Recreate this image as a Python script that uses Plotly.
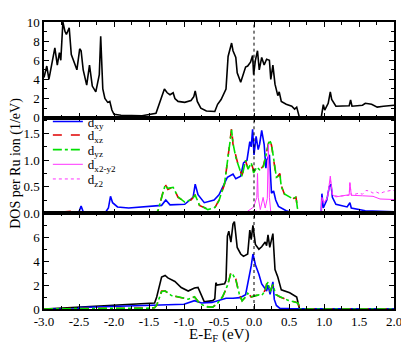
import plotly.graph_objects as go
from plotly.subplots import make_subplots

# top panel: total DOS
e_tot = [-3.0, -2.96, -2.93, -2.89, -2.87, -2.845, -2.81, -2.78, -2.76, -2.73, -2.70, -2.68, -2.64, -2.61,
         -2.56, -2.53, -2.49, -2.47, -2.44, -2.39, -2.35, -2.31, -2.26, -2.21, -2.19, -2.16, -2.13, -2.09,
         -2.06, -2.03, -2.0, -1.9, -1.6, -1.4, -1.28, -1.24, -1.20, -1.155, -1.13, -1.085, -0.99, -0.90,
         -0.86, -0.84, -0.81, -0.76, -0.68, -0.56, -0.52, -0.47, -0.40, -0.37, -0.32, -0.30, -0.26, -0.24,
         -0.19, -0.155, -0.12, -0.09, -0.05, -0.02, -0.005, 0.02, 0.05, 0.075, 0.11, 0.145, 0.18, 0.22,
         0.24, 0.27, 0.30, 0.34, 0.36, 0.39, 0.46, 0.54, 0.58, 0.61, 0.65, 0.96, 0.99, 1.01, 1.06, 1.09,
         1.11, 1.17, 1.36, 1.38, 1.40, 1.55, 1.59, 1.68, 1.76, 1.85, 2.0]
dos_tot = [4.2, 5.4, 4.0, 5.5, 6.3, 7.3, 5.5, 6.8, 6.0, 10.0, 9.0, 8.7, 9.4, 6.6,
           5.6, 5.0, 7.2, 7.0, 5.0, 3.4, 5.5, 3.3, 2.7, 4.5, 8.5, 3.0, 2.0, 1.6,
           1.7, 0.8, 0.35, 0.25, 0.2, 0.45, 3.0, 2.6, 2.4, 2.6, 2.0, 1.7, 1.6, 1.8,
           2.2, 2.8, 1.7, 1.0, 0.7, 0.65, 1.4, 1.9, 3.0, 6.4, 7.8, 7.0, 6.3, 4.7,
           3.7, 4.6, 5.3, 5.4, 5.8, 6.5, 4.5, 6.0, 7.0, 5.0, 6.3, 5.5, 6.1, 6.0,
           4.0, 5.5, 3.5, 2.3, 2.7, 1.7, 1.4, 1.2, 0.9, 1.1, 0.0, 0.0, 1.35, 0.8, 1.5, 2.7,
           1.9, 1.2, 1.25, 1.85, 1.2, 1.3, 1.5, 1.4, 1.1, 1.2, 1.3]

# middle panel: orbital resolved
e_xy = [-3.0, -2.52, -2.50, -2.47, -2.44, -2.2, -2.12, -2.08, -2.05, -2.02, -1.95, -1.79, -1.32, -1.26,
        -1.20, -0.99, -0.87, -0.84, -0.80, -0.71, -0.57, -0.50, -0.43, -0.38, -0.30, -0.26, -0.19, -0.15,
        -0.10, -0.06, -0.04, -0.02, 0.0, 0.03, 0.06, 0.08, 0.11, 0.145, 0.17, 0.18, 0.22, 0.25, 0.28,
        0.31, 0.35, 0.46, 0.58, 0.96, 0.97, 0.99, 1.04, 1.075, 1.10, 1.12, 1.17, 1.33, 1.37, 1.39, 1.59, 2.0]
d_xy = [0.0, 0.0, 0.03, 0.14, 0.03, 0.02, 0.02, 0.1, 0.32, 0.2, 0.12, 0.1, 0.15, 0.25,
        0.16, 0.17, 0.3, 0.55, 0.35, 0.2, 0.25, 0.35, 0.55, 0.68, 0.74, 0.65, 0.7, 0.95,
        1.0, 1.35, 1.25, 1.58, 1.1, 1.45, 1.2, 1.3, 1.56, 1.3, 0.85, 1.0, 1.1, 0.38, 0.42,
        0.25, 0.13, 0.05, 0.0, 0.0, 0.37, 0.1, 0.25, 0.5, 0.55, 0.3, 0.17, 0.12, 0.2, 0.1, 0.05, 0.03]

e_xz = [-3.0, -2.7, -2.6, -2.5, -2.4, -2.3, -1.40, -1.37, -1.27, -1.23, -1.155, -1.085, -0.99, -0.90,
        -0.84, -0.78, -0.66, -0.56, -0.50, -0.42, -0.38, -0.34, -0.32, -0.30, -0.26, -0.215, -0.17,
        -0.12, -0.085, -0.04, -0.005, 0.04, 0.08, 0.135, 0.18, 0.20, 0.22, 0.25, 0.28, 0.32, 0.37,
        0.39, 0.44, 0.56, 0.60, 0.62, 0.65, 2.0]
d_xz = [0.0, 0.02, 0.04, 0.02, 0.03, 0.0, 0.0, 0.05, 0.55, 0.45, 0.5, 0.3, 0.22, 0.25,
        0.35, 0.15, 0.08, 0.1, 0.25, 0.55, 0.95, 1.45, 1.6, 1.3, 1.08, 0.85, 0.72,
        0.98, 0.85, 0.97, 0.79, 0.85, 0.8, 0.9, 1.15, 1.26, 1.4, 1.28, 1.02, 0.66, 0.75,
        0.52, 0.34, 0.28, 0.3, 0.1, 0.0, 0.0]
d_yz = [0.0, 0.03, 0.03, 0.02, 0.02, 0.0, 0.0, 0.06, 0.53, 0.47, 0.49, 0.31, 0.21, 0.26,
        0.34, 0.16, 0.07, 0.11, 0.24, 0.57, 0.97, 1.42, 1.57, 1.32, 1.05, 0.87, 0.7,
        1.0, 0.83, 0.95, 0.76, 0.87, 0.82, 0.88, 1.13, 1.28, 1.38, 1.3, 1.0, 0.68, 0.73,
        0.5, 0.36, 0.27, 0.31, 0.1, 0.0, 0.0]

e_x2y2 = [-3.0, -0.2, -0.10, -0.005, 0.04, 0.05, 0.06, 0.09, 0.13, 0.16, 0.19, 0.205, 0.22, 0.24,
          0.46, 0.55, 0.96, 0.97, 1.0, 1.05, 1.09, 1.12, 1.17, 1.30, 1.36, 1.37, 1.39, 1.55, 1.7,
          1.8, 2.0]
d_x2y2 = [0.0, 0.0, 0.03, 0.12, 0.3, 0.75, 0.3, 0.07, 0.3, 0.1, 0.28, 1.3, 0.3, 0.02,
          0.02, 0.0, 0.0, 0.3, 0.2, 0.3, 0.7, 0.35, 0.31, 0.33, 0.35, 0.58, 0.34, 0.33, 0.32,
          0.27, 0.26]

e_z2 = [-3.0, -0.1, 0.0, 0.05, 0.1, 0.2, 0.3, 0.96, 0.97, 1.0, 1.05, 1.09, 1.12, 1.2, 1.36, 1.37,
        1.39, 1.45, 1.5, 1.55, 1.6, 1.65, 1.7, 1.75, 1.8, 1.85, 1.9, 1.95, 2.0]
d_z2 = [0.0, 0.0, 0.03, 0.05, 0.03, 0.04, 0.0, 0.0, 0.28, 0.2, 0.28, 0.65, 0.34, 0.32, 0.34, 0.56,
        0.34, 0.36, 0.38, 0.36, 0.43, 0.42, 0.38, 0.4, 0.37, 0.4, 0.42, 0.43, 0.43]

# bottom panel
e_b = [-3.0, -2.5, -1.8, -1.42, -1.39, -1.32, -1.27, -1.23, -1.13, -1.04, -0.94, -0.85, -0.80, -0.76,
       -0.71, -0.59, -0.56, -0.545, -0.53, -0.42, -0.40, -0.38, -0.36, -0.33, -0.30, -0.28, -0.24,
       -0.19, -0.15, -0.09, -0.06, -0.04, -0.015, 0.02, 0.07, 0.11, 0.16, 0.18, 0.20, 0.225, 0.27,
       0.30, 0.34, 0.39, 0.51, 0.61, 0.65, 2.0]
dos_b = [0.0, 0.15, 0.4, 0.5, 1.0, 2.67, 2.8, 2.6, 2.3, 1.8, 1.5, 1.75, 1.8, 1.25,
         0.6, 0.7, 0.85, 2.2, 2.0, 2.1, 2.4, 6.1, 6.5, 5.6, 7.1, 7.3, 5.15,
         4.6, 4.4, 4.6, 6.6, 5.8, 7.0, 5.4, 5.0, 5.2, 5.6, 5.3, 6.2, 5.15, 6.3,
         3.3, 2.67, 1.6, 1.36, 1.0, 0.0, 0.0]

e_b_xy = [-3.0, -2.52, -2.5, -2.0, -1.65, -1.4, -1.0, -0.85, -0.75, -0.6, -0.5, -0.4, -0.3, -0.2,
          -0.12, -0.10, -0.07, -0.04, -0.015, 0.02, 0.07, 0.11, 0.16, 0.18, 0.20, 0.23, 0.27, 0.29,
          0.32, 0.37, 0.5, 1.0, 1.01, 2.0]
b_xy = [0.0, 0.0, 0.12, 0.2, 0.3, 0.3, 0.4, 0.7, 0.5, 0.55, 0.7, 0.9, 0.9, 0.95,
        1.2, 1.75, 2.5, 3.6, 4.6, 3.7, 2.9, 2.1, 1.7, 1.5, 2.0, 1.23, 2.27, 0.8,
        0.3, 0.05, 0.03, 0.02, 0.0, 0.0]

e_b_xz = [-3.0, -2.45, -2.4, -1.5, -1.42, -1.39, -1.32, -1.27, -1.18, -1.085, -0.94, -0.85, -0.78,
          -0.68, -0.59, -0.52, -0.45, -0.38, -0.33, -0.30, -0.26, -0.21, -0.17, -0.12, -0.09, -0.04,
          0.02, 0.07, 0.11, 0.16, 0.18, 0.20, 0.23, 0.27, 0.31, 0.37, 0.42, 0.49, 0.58, 0.63, 0.65, 2.0]
b_xz = [0.0, 0.0, 0.05, 0.08, 0.1, 0.3, 1.5, 1.5, 1.15, 1.0, 0.84, 1.0, 0.5,
        0.2, 0.15, 0.5, 1.0, 1.9, 3.06, 2.8, 2.5, 1.2, 0.7, 1.0, 1.36, 1.0,
        1.1, 1.2, 1.1, 1.6, 2.1, 2.2, 1.5, 2.0, 1.23, 1.0, 0.9, 0.7, 0.6, 0.5, 0.0, 0.0]
b_yz = [0.0, 0.0, 0.04, 0.07, 0.1, 0.32, 1.45, 1.52, 1.12, 1.02, 0.82, 1.02, 0.48,
        0.18, 0.16, 0.48, 1.02, 1.95, 3.0, 2.85, 2.45, 1.25, 0.68, 1.02, 1.32, 1.02,
        1.12, 1.18, 1.12, 1.55, 2.05, 2.25, 1.45, 2.05, 1.2, 1.02, 0.88, 0.72, 0.58, 0.5, 0.0, 0.0]

x_ticks = [-3.0, -2.5, -2.0, -1.5, -1.0, -0.5, 0.0, 0.5, 1.0, 1.5, 2.0]
x_labels = ["-3.0", "-2.5", "-2.0", "-1.5", "-1.0", "-0.5", "0.0", "0.5", "1.0", "1.5", "2.0"]

FONT = "Liberation Serif, Times New Roman, serif"
BLUE, RED, GREEN, MAG = "#0000ff", "#e00000", "#00e000", "#ff33ff"

fig = make_subplots(rows=3, cols=1, shared_xaxes=True, vertical_spacing=0)

fig.add_trace(go.Scatter(x=e_tot, y=dos_tot, mode="lines", line=dict(color="black", width=1.6),
                         showlegend=False), row=1, col=1)

# one legend per entry so the rows can sit as tight as in the reference
fig.add_trace(go.Scatter(x=e_xy, y=d_xy, mode="lines", name="d<sub>xy</sub>", legend="legend",
                         line=dict(color=BLUE, width=1.6)), row=2, col=1)
fig.add_trace(go.Scatter(x=e_xz, y=d_xz, mode="lines", name="d<sub>xz</sub>", legend="legend2",
                         line=dict(color=RED, width=1.6, dash="dash")), row=2, col=1)
fig.add_trace(go.Scatter(x=e_xz, y=d_yz, mode="lines", name="d<sub>yz</sub>", legend="legend3",
                         line=dict(color=GREEN, width=1.6, dash="dashdot")), row=2, col=1)
fig.add_trace(go.Scatter(x=e_x2y2, y=d_x2y2, mode="lines", name="d<sub>x2-y2</sub>", legend="legend4",
                         line=dict(color=MAG, width=1)), row=2, col=1)
fig.add_trace(go.Scatter(x=e_z2, y=d_z2, mode="lines", name="d<sub>z2</sub>", legend="legend5",
                         line=dict(color=MAG, width=1, dash="dot")), row=2, col=1)

fig.add_trace(go.Scatter(x=e_b, y=dos_b, mode="lines", line=dict(color="black", width=1.6),
                         showlegend=False), row=3, col=1)
fig.add_trace(go.Scatter(x=e_b_xy, y=b_xy, mode="lines", line=dict(color=BLUE, width=1.6),
                         showlegend=False), row=3, col=1)
fig.add_trace(go.Scatter(x=e_b_xz, y=b_xz, mode="lines", line=dict(color=RED, width=1.6, dash="dash"),
                         showlegend=False), row=3, col=1)
fig.add_trace(go.Scatter(x=e_b_xz, y=b_yz, mode="lines", line=dict(color=GREEN, width=1.6, dash="dashdot"),
                         showlegend=False), row=3, col=1)

fig.add_vline(x=0, line=dict(color="black", width=1, dash="dot"), row="all", col=1)

axis_style = dict(showline=True, linecolor="black", linewidth=1.5, mirror="allticks", ticks="inside",
                  ticklen=5, tickcolor="black", showgrid=False, zeroline=False,
                  tickfont=dict(family=FONT, size=13, color="black"),
                  minor=dict(ticks="inside", ticklen=3, tickcolor="black"))

fig.update_xaxes(range=[-3, 2], tickvals=x_ticks, ticktext=x_labels, **axis_style)
fig.update_xaxes(minor_dtick=0.25, minor_tick0=0)
fig.update_xaxes(showticklabels=False, row=1, col=1)
fig.update_xaxes(showticklabels=False, row=2, col=1)
fig.update_xaxes(showticklabels=True, row=3, col=1)

fig.update_yaxes(**axis_style)
fig.update_yaxes(range=[0, 10], tickvals=[0, 2, 4, 6, 8, 10], ticktext=["0", "2", "4", "6", "8", "10"],
                 minor_dtick=1, minor_tick0=0, row=1, col=1)
fig.update_yaxes(range=[0, 1.8], tickvals=[0, 0.5, 1.0, 1.5], ticktext=["0.0", "0.5", "1.0", "1.5"],
                 minor_dtick=0.25, minor_tick0=0, row=2, col=1)
fig.update_yaxes(range=[0, 8], tickvals=[0, 2, 4, 6], ticktext=["0", "2", "4", "6"],
                 minor_dtick=1, minor_tick0=0, row=3, col=1)

fig.add_annotation(text="DOS per Ru ion (1/eV)", xref="paper", yref="paper", x=-0.079, y=0.507,
                   textangle=-90, showarrow=False, xanchor="center", yanchor="middle",
                   font=dict(family=FONT, size=14, color="black"))
fig.add_annotation(text="E-E<sub>F</sub> (eV)", xref="paper", yref="paper", x=0.5, y=-0.09,
                   showarrow=False, xanchor="center", yanchor="middle",
                   font=dict(family=FONT, size=15, color="black"))

leg = dict(x=0.011, xanchor="left", yanchor="middle", bgcolor="rgba(0,0,0,0)",
           font=dict(family=FONT, size=13, color="black"), itemwidth=30)

# the page body adds an 8px offset, so the figure is 8px smaller than the window
fig.update_layout(
    width=401, height=337,
    margin=dict(l=36, r=10, t=7, b=36),
    paper_bgcolor="white", plot_bgcolor="white",
    font=dict(family=FONT, color="black"),
    legend=dict(leg, y=0.653),
    legend2=dict(leg, y=0.606),
    legend3=dict(leg, y=0.555),
    legend4=dict(leg, y=0.504),
    legend5=dict(leg, y=0.453),
)

fig.write_html("out.html")
